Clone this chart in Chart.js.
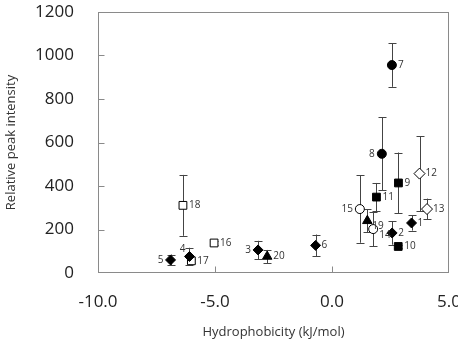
<!DOCTYPE html>
<html>
<head>
<meta charset="utf-8">
<script src="https://cdn.jsdelivr.net/npm/chart.js@4"></script>
<style>
  html, body { margin: 0; padding: 0; background: #fff; }
  #wrap { width: 458px; height: 344px; }
</style>
</head>
<body>
<div id="wrap"><canvas id="graf"></canvas></div>
<script>
// data
const ids = [1, 2, 3, 4, 5, 6, 7, 8, 9, 10, 11, 12, 13, 14, 15, 16, 17, 18, 19, 20];
const hydro = [3.40, 2.57, -3.16, -6.09, -6.90, -0.70, 2.56, 2.13, 2.84, 2.83, 1.90, 3.74, 4.06, 1.76, 1.19, -5.04, -6.01, -6.37, 1.51, -2.77];
const intensity = [230, 184, 106, 76, 60, 127, 956, 548, 414, 122, 349, 457, 294, 202, 294, 138, 56, 311, 240, 76];
const sd = [35, 54, 42, 40, 25, 50, 100, 167, 140, 5, 65, 172, 48, 80, 155, 8, 10, 140, 52, 30];
const kind = ['fd', 'fd', 'fd', 'fd', 'fd', 'fd', 'fc', 'fc', 'fs', 'fs', 'fs', 'od', 'od', 'oc', 'oc', 'os', 'os', 'os', 'ft', 'ft'];
const xTicks = [-10, -5, 0, 5];
const yTicks = [0, 200, 400, 600, 800, 1000, 1200];
const yTitle = 'Relative peak intensity';

// marker look per kind
const markers = {
    fc: { pointStyle: 'circle', radius: 4.5, fill: '#000' },
    fs: { pointStyle: 'rect', radius: 5.5, fill: '#000' },
    fd: { pointStyle: 'rectRot', radius: 5, fill: '#000' },
    ft: { pointStyle: 'triangle', radius: 5.5, fill: '#000' },
    os: { pointStyle: 'rect', radius: 5.5, fill: '#fff' },
    oc: { pointStyle: 'circle', radius: 4.5, fill: '#fff' },
    od: { pointStyle: 'rectRot', radius: 5.5, fill: '#fff' }
};

// where the number label sits next to its point
const labelPos = {
    3: { dx: -7, dy: 0, align: 'right' },
    4: { dx: -4, dy: -7, align: 'right' },
    5: { dx: -7, dy: 0, align: 'right' },
    8: { dx: -7, dy: 0, align: 'right' },
    15: { dx: -7, dy: 0, align: 'right' },
    14: { dx: 6, dy: 6, align: 'left' },
    19: { dx: 5, dy: 5, align: 'left' }
};

const datasets = Object.keys(markers).map(k => {
    const pts = [];
    ids.forEach((id, i) => {
        if (kind[i] === k) pts.push({ x: hydro[i], y: intensity[i], id: id, sd: sd[i] });
    });
    const m = markers[k];
    return {
        label: k,
        data: pts,
        pointStyle: m.pointStyle,
        pointRadius: m.radius,
        pointHoverRadius: m.radius,
        backgroundColor: m.fill,
        borderColor: '#000',
        borderWidth: 1
    };
});

const axisColor = '#8a8a8a';

// error bars, labels, inner ticks, the box and the y title
const extras = {
    id: 'extras',
    beforeDatasetsDraw(chart) {
        const ctx = chart.ctx;
        const xs = chart.scales.x, ys = chart.scales.y;
        ctx.save();
        ctx.strokeStyle = '#444';
        ctx.lineWidth = 1;
        chart.data.datasets.forEach(ds => {
            ds.data.forEach(p => {
                if (!p.sd) return;
                const px = Math.round(xs.getPixelForValue(p.x)) + 0.5;
                const top = ys.getPixelForValue(p.y + p.sd);
                const bot = ys.getPixelForValue(p.y - p.sd);
                ctx.beginPath();
                ctx.moveTo(px, top); ctx.lineTo(px, bot);
                ctx.moveTo(px - 4, Math.round(top) + 0.5); ctx.lineTo(px + 4, Math.round(top) + 0.5);
                ctx.moveTo(px - 4, Math.round(bot) + 0.5); ctx.lineTo(px + 4, Math.round(bot) + 0.5);
                ctx.stroke();
            });
        });
        ctx.restore();
    },
    afterDatasetsDraw(chart) {
        const ctx = chart.ctx;
        const xs = chart.scales.x, ys = chart.scales.y;
        const a = chart.chartArea;
        ctx.save();
        ctx.font = '10px "Open Sans", sans-serif';
        ctx.fillStyle = '#333';
        ctx.textBaseline = 'middle';
        chart.data.datasets.forEach(ds => {
            ds.data.forEach(p => {
                const lp = labelPos[p.id] || { dx: 6, dy: 0, align: 'left' };
                ctx.textAlign = lp.align;
                ctx.fillText(String(p.id), xs.getPixelForValue(p.x) + lp.dx, ys.getPixelForValue(p.y) + lp.dy);
            });
        });

        // box + ticks pointing inward
        ctx.strokeStyle = axisColor;
        ctx.lineWidth = 1;
        const l = Math.round(a.left) + 0.5, r = Math.round(a.right) - 0.5;
        const t = Math.round(a.top) + 0.5, b = Math.round(a.bottom) - 0.5;
        ctx.strokeRect(l, t, r - l, b - t);
        ctx.beginPath();
        xTicks.slice(1, -1).forEach(v => {
            const px = Math.round(xs.getPixelForValue(v)) + 0.5;
            ctx.moveTo(px, b); ctx.lineTo(px, b - 6);
        });
        yTicks.slice(1, -1).forEach(v => {
            const py = Math.round(ys.getPixelForValue(v)) + 0.5;
            ctx.moveTo(l, py); ctx.lineTo(l + 6, py);
        });
        ctx.stroke();

        // y title, centred on the plot box
        ctx.translate(11, (a.top + a.bottom) / 2);
        ctx.rotate(-Math.PI / 2);
        ctx.font = '13px "Open Sans", sans-serif';
        ctx.fillStyle = '#333';
        ctx.textAlign = 'center';
        ctx.fillText(yTitle, 0, 0);
        ctx.restore();
    }
};

const tickFont = { family: '"Open Sans", sans-serif', size: 17 };

new Chart(document.getElementById('graf').getContext('2d'), {
    type: 'scatter',
    data: { datasets: datasets },
    options: {
        responsive: true,
        maintainAspectRatio: false,
        animation: false,
        events: [],
        layout: { padding: { top: 12, right: 9, left: 0, bottom: 0 } },
        plugins: {
            legend: { display: false },
            tooltip: { enabled: false }
        },
        scales: {
            x: {
                type: 'linear',
                min: xTicks[0],
                max: xTicks[xTicks.length - 1],
                afterBuildTicks: s => { s.ticks = xTicks.map(v => ({ value: v })); },
                afterFit: s => { s.height = 71; s.paddingLeft = 0; s.paddingRight = 0; },
                grid: { display: false },
                border: { display: false },
                ticks: {
                    font: tickFont,
                    color: '#222',
                    padding: 11,
                    maxRotation: 0,
                    callback: v => v.toFixed(1)
                },
                title: {
                    display: true,
                    text: 'Hydrophobicity (kJ/mol)',
                    font: { family: '"Open Sans", sans-serif', size: 13 },
                    color: '#333',
                    padding: { top: 8, bottom: 4 }
                }
            },
            y: {
                type: 'linear',
                min: yTicks[0],
                max: yTicks[yTicks.length - 1],
                afterBuildTicks: s => { s.ticks = yTicks.map(v => ({ value: v })); },
                afterFit: s => { s.width = 98; s.paddingTop = 0; s.paddingBottom = 0; },
                grid: { display: false },
                border: { display: false },
                ticks: {
                    font: tickFont,
                    color: '#222',
                    padding: 16,
                    callback: v => String(v)
                },
                title: { display: false }
            }
        }
    },
    plugins: [extras]
});
</script>
</body>
</html>
